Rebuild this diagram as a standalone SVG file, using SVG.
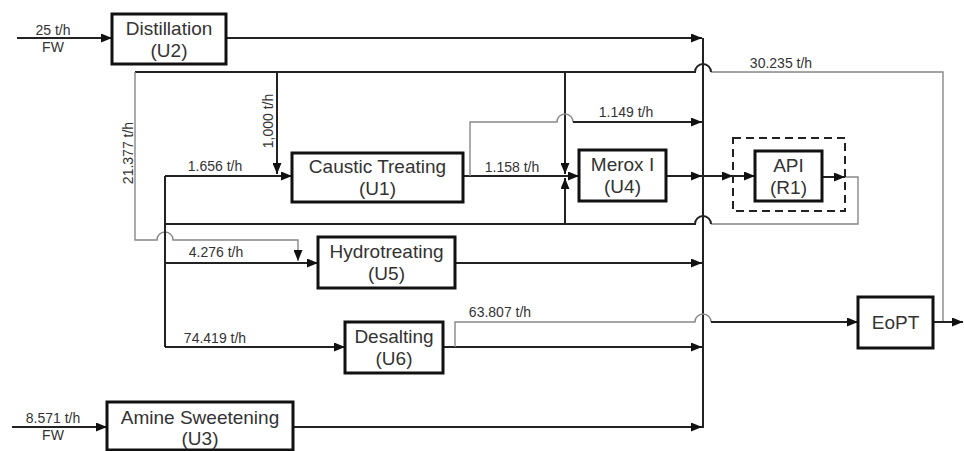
<svg xmlns="http://www.w3.org/2000/svg" width="964" height="451" viewBox="0 0 964 451">
<defs>
<style>
.box{fill:#fff;stroke:#111;stroke-width:3}
.dash{fill:none;stroke:#222;stroke-width:2;stroke-dasharray:8 5}
.t{font-family:"Liberation Sans",Arial,sans-serif;font-size:19px;fill:#333;text-anchor:middle}
.l{font-family:"Liberation Sans",Arial,sans-serif;font-size:14px;fill:#333;text-anchor:middle}
.k{fill:none;stroke:#222;stroke-width:2}
.g{fill:none;stroke:#888;stroke-width:1.4}
</style>
<marker id="a" markerUnits="userSpaceOnUse" markerWidth="11" markerHeight="9" refX="11" refY="4.5" orient="auto">
<path d="M0,0 L11,4.5 L0,9 z" fill="#111"/>
</marker>
</defs>
<rect width="964" height="451" fill="#fff"/>
<g id="connectors">
<!-- main collector -->
<path class="k" d="M703,38 V428"/>
<!-- feeds -->
<path class="k" d="M17,38 H112" marker-end="url(#a)"/>
<path class="k" d="M12,427 H107" marker-end="url(#a)"/>
<!-- unit outputs to collector -->
<path class="k" d="M226,38 H702" marker-end="url(#a)"/>
<path class="k" d="M455,263 H702" marker-end="url(#a)"/>
<path class="k" d="M443,347 H702" marker-end="url(#a)"/>
<path class="k" d="M293,427 H702" marker-end="url(#a)"/>
<!-- recycle from EoPT -->
<path class="g" d="M943,322 V72 H711"/>
<path class="k" d="M711,72 A8,8 0 0 0 695,72 H135"/>
<path class="g" d="M135,72 V240 H157 A8,8 0 0 1 173,240 H298 V261" marker-end="url(#a)"/>
<path class="k" d="M277,72 V174" marker-end="url(#a)"/>
<path class="k" d="M565,72 V174" marker-end="url(#a)"/>
<!-- caustic feed and left distribution -->
<path class="k" d="M165,176 V347"/>
<path class="k" d="M165,176 H292" marker-end="url(#a)"/>
<path class="k" d="M165,263 H318" marker-end="url(#a)"/>
<path class="k" d="M165,347 H345" marker-end="url(#a)"/>
<!-- caustic to merox -->
<path class="k" d="M463,176 H579" marker-end="url(#a)"/>
<path class="g" d="M470,176 V122 H557 A8,8 0 0 1 573,122"/>
<path class="k" d="M573,122 H702" marker-end="url(#a)"/>
<!-- merox to API -->
<path class="k" d="M666,176 H702" marker-end="url(#a)"/>
<path class="k" d="M703,176 H733" marker-end="url(#a)"/>
<path class="k" d="M733,176 H755" marker-end="url(#a)"/>
<path class="k" d="M822,177 H845" marker-end="url(#a)"/>
<!-- API recycle -->
<path class="g" d="M845,177 H858 V224 H711"/>
<path class="k" d="M711,224 A8,8 0 0 0 695,224 H165"/>
<path class="k" d="M565,224 V178" marker-end="url(#a)"/>
<!-- desalting to EoPT -->
<path class="g" d="M455,347 V322 H695 A8,8 0 0 1 711,322"/>
<path class="k" d="M711,322 H858" marker-end="url(#a)"/>
<path class="k" d="M933,322 H963" marker-end="url(#a)"/>
</g>
<g id="labels">
<text class="l" x="53" y="35">25 t/h</text>
<text class="l" x="53" y="52">FW</text>
<text class="l" x="53" y="423">8.571 t/h</text>
<text class="l" x="53" y="440">FW</text>
<text class="l" x="781" y="68">30.235 t/h</text>
<text class="l" transform="translate(133,153) rotate(-90)">21.377 t/h</text>
<text class="l" transform="translate(273,121) rotate(-90)">1,000 t/h</text>
<text class="l" x="215" y="171">1.656 t/h</text>
<text class="l" x="512" y="172">1.158 t/h</text>
<text class="l" x="626" y="117">1.149 t/h</text>
<text class="l" x="216" y="257">4.276 t/h</text>
<text class="l" x="215" y="343">74.419 t/h</text>
<text class="l" x="500" y="317">63.807 t/h</text>
</g>
<g id="U2">
<rect class="box" x="112" y="14" width="114" height="50"/>
<text class="t" x="169" y="35">Distillation</text>
<text class="t" x="169" y="57">(U2)</text>
</g>
<g id="U1">
<rect class="box" x="292" y="153" width="171" height="49"/>
<text class="t" x="377.5" y="173">Caustic Treating</text>
<text class="t" x="377.5" y="195">(U1)</text>
</g>
<g id="U4">
<rect class="box" x="579" y="150" width="87" height="51"/>
<text class="t" x="622.5" y="171">Merox I</text>
<text class="t" x="622.5" y="193">(U4)</text>
</g>
<g id="R1">
<rect class="dash" x="733" y="138" width="112" height="73"/>
<rect class="box" x="755" y="151" width="67" height="50"/>
<text class="t" x="788.5" y="172">API</text>
<text class="t" x="788.5" y="194">(R1)</text>
</g>
<g id="U5">
<rect class="box" x="318" y="237" width="137" height="51"/>
<text class="t" x="386.5" y="258">Hydrotreating</text>
<text class="t" x="386.5" y="280">(U5)</text>
</g>
<g id="U6">
<rect class="box" x="345" y="322" width="98" height="51"/>
<text class="t" x="394" y="343">Desalting</text>
<text class="t" x="394" y="365">(U6)</text>
</g>
<g id="U3">
<rect class="box" x="107" y="402" width="186" height="48"/>
<text class="t" x="200" y="424">Amine Sweetening</text>
<text class="t" x="200" y="445">(U3)</text>
</g>
<g id="EoPT">
<rect class="box" x="858" y="297" width="75" height="51"/>
<text class="t" x="895.5" y="329">EoPT</text>
</g>
</svg>
